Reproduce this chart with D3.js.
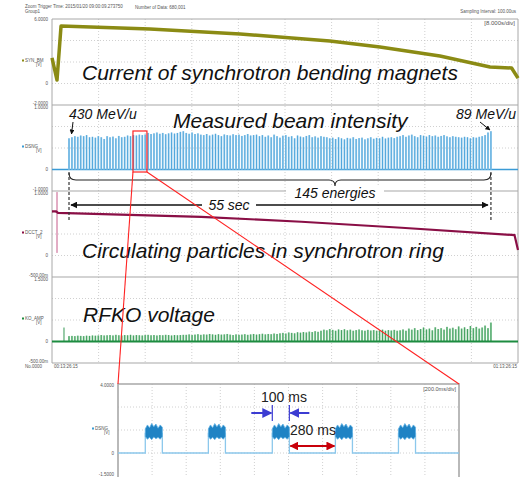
<!doctype html>
<html lang="en">
<head>
<meta charset="utf-8">
<title>Synchrotron multi-energy operation</title>
<script src="https://cdn.jsdelivr.net/npm/d3@7"></script>
<style>
body { margin: 0; background: #fff; }
svg { display: block; font-family: "Liberation Sans", Arial, sans-serif; }
.big { font-size: 21px; font-style: italic; fill: #111; }
.tiny { font-size: 4.5px; fill: #555; }
</style>
</head>
<body>
<svg id="chart" width="520" height="477"></svg>
<script>
// values; amplitudes are in scope divisions
const magnetTime  = [0, 0.86, 1.55, 16.8, 32.3, 47.7, 56.3, 66.6, 75.2, 78.9, 80];
const magnetValue = [1.19, 0.16, 2.67, 2.53, 2.30, 1.98, 1.70, 1.28, 0.77, 0.72, 0.25];

const circTime  = [0, 0.7, 1.03, 25.6, 42.8, 60.0, 79.4, 80];
const circValue = [2.05, 2.05, 1.98, 1.80, 1.57, 1.29, 0.95, 0.26];
const circGlitch = {t: 0.86, top: 2.95, bottom: 0.12};

const firstEnergy = 2.92;   // s
const energyStep = 0.503;   // s between energies
const beamHeight = [
  1.45, 1.5, 1.55, 1.52, 1.58, 1.55, 1.6, 1.5,
  1.52, 1.48, 1.55, 1.5, 1.42, 1.55, 1.5, 1.53, 1.45, 1.56, 1.5, 1.52, 1.58, 1.55,
  1.6, 1.58, 1.62, 1.6, 1.63,
  1.7, 1.65, 1.68, 1.72, 1.66, 1.7, 1.64, 1.68, 1.72, 1.67, 1.7, 1.75, 1.78, 1.7, 1.66, 1.72, 1.65, 1.68,
  1.62, 1.6, 1.65, 1.58, 1.62, 1.66, 1.6, 1.55, 1.63, 1.6, 1.58, 1.64, 1.6, 1.62, 1.56, 1.6, 1.65, 1.58, 1.6, 1.62,
  1.55, 1.6, 1.52, 1.58, 1.5, 1.62, 1.55, 1.48, 1.57, 1.6, 1.52, 1.55, 1.45, 1.58, 1.53, 1.5, 1.56, 1.6, 1.5, 1.54, 1.48, 1.55, 1.52, 1.5,
  1.45, 1.48, 1.42, 1.5, 1.45, 1.4, 1.47, 1.44, 1.5, 1.42, 1.46, 1.48, 1.4, 1.45, 1.5, 1.43, 1.47, 1.45, 1.52, 1.44, 1.48, 1.5, 1.46, 1.52,
  1.55, 1.6, 1.52, 1.58, 1.62, 1.55, 1.5, 1.6, 1.57, 1.53, 1.6, 1.55, 1.58, 1.52, 1.56, 1.6, 1.54, 1.5, 1.55, 1.52, 1.5,
  1.48, 1.52, 1.5, 1.45, 1.5, 1.48, 1.52, 1.55, 1.6, 1.72, 1.78
];
const rfkoHeight = [
  0.25, 0.26, 0.25, 0.27, 0.26, 0.25, 0.27, 0.26, 0.28, 0.27,
  0.28, 0.3, 0.28, 0.29, 0.3, 0.28, 0.31, 0.29, 0.28, 0.3, 0.29, 0.31, 0.28, 0.3, 0.29,
  0.28, 0.3, 0.31, 0.29, 0.3, 0.28, 0.3, 0.29, 0.31, 0.3, 0.28, 0.3, 0.29, 0.3, 0.31,
  0.31, 0.33, 0.3, 0.32, 0.34, 0.31, 0.33, 0.32, 0.35, 0.33, 0.31, 0.34, 0.32, 0.33, 0.35, 0.32,
  0.3, 0.33, 0.31, 0.32, 0.34, 0.31, 0.33, 0.35, 0.32, 0.34, 0.36, 0.33, 0.35, 0.34, 0.37, 0.35,
  0.38, 0.4, 0.37, 0.42, 0.4, 0.38, 0.43, 0.41, 0.44, 0.42, 0.46, 0.44, 0.48, 0.45,
  0.5, 0.55, 0.52, 0.58, 0.54, 0.5, 0.56, 0.53, 0.57, 0.52, 0.55, 0.5, 0.53, 0.56, 0.52, 0.5,
  0.54, 0.51, 0.53, 0.5, 0.52, 0.55, 0.5, 0.53, 0.51, 0.54, 0.5,
  0.52, 0.56, 0.5, 0.6, 0.55, 0.62, 0.53, 0.58, 0.65, 0.56, 0.6, 0.52, 0.66, 0.58, 0.62, 0.55,
  0.68, 0.6, 0.64, 0.57, 0.7, 0.6, 0.66, 0.58, 0.72, 0.62, 0.68, 0.6, 0.65, 0.74, 0.62, 0.88
];
const rfkoKick = {t: 2.06, v: 0.65};

// zoomed beam trace, 200 ms/div
const pulseStart = [160, 530, 905, 1275, 1645];   // ms
const pulseWidth = 100;
const bandTop    = [1.05, 1.22, 1.1, 1.28, 1.14, 1.26, 1.08, 1.22, 1.12];
const bandBottom = [0.72, 0.6, 0.68, 0.58, 0.7, 0.62, 0.68, 0.6, 0.72];

const panels = [
  {name: 'SYN_BM', top: '6.0000', bottom: '-2.0000', color: '#8b8b14'},
  {name: 'DSNG', top: '1.0000', bottom: '-1.0000', color: '#3b9bd6'},
  {name: 'DCCT_2', top: '1.0000', bottom: '-500.00m', color: '#8a0f46'},
  {name: 'KO_AMP', top: '1.5000', bottom: '-500.00m', color: '#1d8c40'}
];

const svg = d3.select('#chart');
const left = 52, right = 518, panelTop = 19, panelH = 86;

const x = d3.scaleLinear().domain([0, 80]).range([left, right]);
const yPanel = i => d3.scaleLinear().domain([-1, 3]).range([panelTop + (i + 1) * panelH, panelTop + i * panelH]);
const ys = panels.map((p, i) => yPanel(i));

// markers
const defs = svg.append('defs');
function marker(id, color, size) {
  defs.append('marker').attr('id', id)
      .attr('viewBox', '0 0 10 10').attr('refX', 9).attr('refY', 5)
      .attr('markerWidth', size).attr('markerHeight', size)
      .attr('orient', 'auto-start-reverse')
    .append('path').attr('d', 'M0,0 L10,5 L0,10 z').attr('fill', color);
}
marker('ah-black', '#111', 5);
marker('ah-blue', '#3c3cd2', 5);
marker('ah-red', '#c8000a', 4);

// header
svg.append('text').attr('class', 'tiny').attr('x', 25).attr('y', 8).text('Zoom Trigger Time: 2015/01/20 09:00:09.273750');
svg.append('text').attr('class', 'tiny').attr('x', 25).attr('y', 12.5).text('Group1');
svg.append('text').attr('class', 'tiny').attr('x', 135).attr('y', 8.5).text('Number of Data: 680,001');
svg.append('text').attr('class', 'tiny').attr('x', 516).attr('y', 13).attr('text-anchor', 'end').text('Sampling Interval: 100.00us');

// grids + frames
const grid = svg.append('g');
d3.range(8, 80, 8).forEach(t => {
  grid.append('line').attr('x1', x(t)).attr('x2', x(t)).attr('y1', panelTop).attr('y2', panelTop + 4 * panelH)
      .attr('stroke', '#c4c4c4').attr('stroke-width', 0.8).attr('stroke-dasharray', '1,2');
});
ys.forEach((y, i) => {
  [0, 1, 2].forEach(v => grid.append('line').attr('x1', left).attr('x2', right).attr('y1', y(v)).attr('y2', y(v))
      .attr('stroke', '#c4c4c4').attr('stroke-width', 0.8).attr('stroke-dasharray', '1,2'));
  grid.append('line').attr('x1', left).attr('x2', right).attr('y1', y(-1)).attr('y2', y(-1))
      .attr('stroke', '#a8a8a8').attr('stroke-width', 1.2);
  const p = panels[i];
  grid.append('text').attr('class', 'tiny').attr('x', 48).attr('y', y(3) + (i ? 3.5 : 2)).attr('text-anchor', 'end').text(p.top);
  grid.append('text').attr('class', 'tiny').attr('x', 48).attr('y', y(-1) - 0.5).attr('text-anchor', 'end').text(p.bottom);
  grid.append('text').attr('class', 'tiny').attr('x', 48).attr('y', y(0) + 1.5).attr('text-anchor', 'end').text('0');
  grid.append('rect').attr('x', 22).attr('y', y(1) - 2.5).attr('width', 2).attr('height', 2).attr('fill', p.color);
  grid.append('text').attr('class', 'tiny').attr('x', 25).attr('y', y(1)).text(p.name);
  grid.append('text').attr('class', 'tiny').attr('x', 36).attr('y', y(1) + 4).text('[V]');
});
grid.append('line').attr('x1', left).attr('x2', left).attr('y1', panelTop).attr('y2', panelTop + 4 * panelH).attr('stroke', '#a8a8a8');
grid.append('line').attr('x1', right).attr('x2', right).attr('y1', panelTop).attr('y2', panelTop + 4 * panelH).attr('stroke', '#a8a8a8');
grid.append('line').attr('x1', left).attr('x2', right).attr('y1', panelTop).attr('y2', panelTop).attr('stroke', '#a8a8a8');
svg.append('text').attr('class', 'tiny').attr('x', 25).attr('y', 368).text('No.0000');
svg.append('text').attr('class', 'tiny').attr('x', 54).attr('y', 368).text('00:13:26:15');
svg.append('text').attr('class', 'tiny').attr('x', 517).attr('y', 368).attr('text-anchor', 'end').text('01:13:26:15');
svg.append('text').attr('x', 515).attr('y', 25).attr('text-anchor', 'end').attr('font-size', 6).attr('fill', '#555').text('[8.000s/div]');

// magnet current
svg.append('path')
    .datum(magnetTime.map((t, i) => [t, magnetValue[i]]))
    .attr('fill', 'none').attr('stroke', panels[0].color).attr('stroke-width', 3.5).attr('stroke-linejoin', 'round')
    .attr('d', d3.line().x(d => x(d[0])).y(d => ys[0](d[1])));

// beam intensity spikes
const energyT = beamHeight.map((h, i) => firstEnergy + i * energyStep);
const yb = ys[1];
svg.append('line').attr('x1', left).attr('x2', right).attr('y1', yb(0)).attr('y2', yb(0))
    .attr('stroke', panels[1].color).attr('stroke-width', 1.5);
const beam = svg.append('g');
beam.selectAll('rect').data(beamHeight).join('rect')
    .attr('x', (d, i) => x(energyT[i]) - 1).attr('width', 2)
    .attr('y', d => yb(d)).attr('height', d => yb(0) - yb(d))
    .attr('fill', '#a9d5f0');
beam.selectAll('line').data(beamHeight).join('line')
    .attr('x1', (d, i) => x(energyT[i])).attr('x2', (d, i) => x(energyT[i]))
    .attr('y1', yb(0)).attr('y2', d => yb(d))
    .attr('stroke', '#3b9bd6').attr('stroke-width', 0.8);

// circulating particles
const yc = ys[2];
svg.append('line').attr('x1', x(circGlitch.t)).attr('x2', x(circGlitch.t))
    .attr('y1', yc(circGlitch.top)).attr('y2', yc(circGlitch.bottom))
    .attr('stroke', '#c0487e').attr('stroke-width', 0.9);
svg.append('path')
    .datum(circTime.map((t, i) => [t, circValue[i]]))
    .attr('fill', 'none').attr('stroke', panels[2].color).attr('stroke-width', 2.2)
    .attr('d', d3.line().x(d => x(d[0])).y(d => yc(d[1])));

// RFKO voltage
const yr = ys[3];
const rfko = svg.append('g');
rfko.append('line').attr('x1', x(rfkoKick.t)).attr('x2', x(rfkoKick.t))
    .attr('y1', yr(0)).attr('y2', yr(rfkoKick.v)).attr('stroke', panels[3].color).attr('stroke-width', 0.9);
rfko.selectAll('rect').data(rfkoHeight).join('rect')
    .attr('x', (d, i) => x(energyT[i]) - 1).attr('width', 2)
    .attr('y', d => yr(d)).attr('height', d => yr(0) - yr(d))
    .attr('fill', '#9fd3ac');
rfko.selectAll('line.s').data(rfkoHeight).join('line').attr('class', 's')
    .attr('x1', (d, i) => x(energyT[i])).attr('x2', (d, i) => x(energyT[i]))
    .attr('y1', yr(0)).attr('y2', d => yr(d))
    .attr('stroke', panels[3].color).attr('stroke-width', 0.7);
svg.append('line').attr('x1', left).attr('x2', right).attr('y1', yr(0)).attr('y2', yr(0))
    .attr('stroke', panels[3].color).attr('stroke-width', 2);

// annotations
const t0 = x(energyT[0]), t1 = x(energyT[energyT.length - 1]);
svg.append('text').attr('class', 'big').attr('x', 82).attr('y', 80).text('Current of synchrotron bending magnets');
svg.append('text').attr('class', 'big').attr('x', 173).attr('y', 128).text('Measured beam intensity');
svg.append('text').attr('class', 'big').attr('x', 82).attr('y', 258).text('Circulating particles in synchrotron ring');
svg.append('text').attr('class', 'big').attr('x', 83).attr('y', 322).text('RFKO voltage');
svg.append('text').attr('x', 69).attr('y', 119).attr('font-size', 14).attr('font-style', 'italic').attr('fill', '#111').text('430 MeV/u');
svg.append('text').attr('x', 516).attr('y', 119).attr('text-anchor', 'end').attr('font-size', 14).attr('font-style', 'italic').attr('fill', '#111').text('89 MeV/u');
svg.append('line').attr('x1', 73).attr('y1', 122).attr('x2', 71.5).attr('y2', 134)
    .attr('stroke', '#111').attr('stroke-width', 1).attr('marker-end', 'url(#ah-black)');
svg.append('line').attr('x1', 480).attr('y1', 122).attr('x2', 490).attr('y2', 130)
    .attr('stroke', '#111').attr('stroke-width', 1).attr('marker-end', 'url(#ah-black)');

// brace + dashed limits
const mid = 335, by = 180;
svg.append('path')
    .attr('d', `M${t0},173 Q${t0},${by} ${t0 + 7},${by} L${mid - 6},${by} Q${mid},${by} ${mid},${by + 6} Q${mid},${by} ${mid + 6},${by} L${t1 - 7},${by} Q${t1},${by} ${t1},173`)
    .attr('fill', 'none').attr('stroke', '#222').attr('stroke-width', 1.1);
[t0, t1].forEach(px => svg.append('line').attr('x1', px).attr('x2', px).attr('y1', 172).attr('y2', 222)
    .attr('stroke', '#333').attr('stroke-width', 1.2).attr('stroke-dasharray', '3,2'));
svg.append('rect').attr('x', 286).attr('y', 186).attr('width', 98).attr('height', 16).attr('fill', '#fff');
svg.append('text').attr('x', 335).attr('y', 198).attr('text-anchor', 'middle').attr('font-size', 14).attr('font-style', 'italic').attr('fill', '#111').text('145 energies');
svg.append('line').attr('x1', t0 + 2).attr('x2', t1 - 3).attr('y1', 205).attr('y2', 205)
    .attr('stroke', '#111').attr('stroke-width', 1.4)
    .attr('marker-start', 'url(#ah-black)').attr('marker-end', 'url(#ah-black)');
svg.append('rect').attr('x', 202).attr('y', 197).attr('width', 54).attr('height', 16).attr('fill', '#fff');
svg.append('text').attr('x', 229).attr('y', 210).attr('text-anchor', 'middle').attr('font-size', 14).attr('font-style', 'italic').attr('fill', '#111').text('55 sec');

// zoomed panel
const zl = 118, zr = 459, zt = 384;
const xz = d3.scaleLinear().domain([0, 2000]).range([zl, zr]);
const yz = d3.scaleLinear().domain([-1, 3]).range([zt + 92, zt]);
const zg = svg.append('g');
d3.range(200, 2000, 200).forEach(t => zg.append('line').attr('x1', xz(t)).attr('x2', xz(t)).attr('y1', zt).attr('y2', 477)
    .attr('stroke', '#c4c4c4').attr('stroke-width', 0.8).attr('stroke-dasharray', '1,2'));
[0, 1, 2].forEach(v => zg.append('line').attr('x1', zl).attr('x2', zr).attr('y1', yz(v)).attr('y2', yz(v))
    .attr('stroke', '#c4c4c4').attr('stroke-width', 0.8).attr('stroke-dasharray', '1,2'));
zg.append('path').attr('d', `M${zl},477 L${zl},${zt} L${zr},${zt} L${zr},477`)
    .attr('fill', 'none').attr('stroke', '#a8a8a8').attr('stroke-width', 1.6);
zg.append('text').attr('class', 'tiny').attr('x', 114).attr('y', zt + 3).attr('text-anchor', 'end').text('4.0000');
zg.append('text').attr('class', 'tiny').attr('x', 114).attr('y', yz(0) + 1.5).attr('text-anchor', 'end').text('0');
zg.append('text').attr('class', 'tiny').attr('x', 114).attr('y', 476).attr('text-anchor', 'end').text('-1.5000');
zg.append('rect').attr('x', 92).attr('y', yz(1) - 2.5).attr('width', 2).attr('height', 2).attr('fill', panels[1].color);
zg.append('text').attr('class', 'tiny').attr('x', 95).attr('y', yz(1)).text('DSNG');
zg.append('text').attr('class', 'tiny').attr('x', 104).attr('y', yz(1) + 4).text('[V]');
zg.append('text').attr('x', 456).attr('y', 391).attr('text-anchor', 'end').attr('font-size', 5.5).attr('fill', '#555').text('[200.0ms/div]');

// pulse outline
const outline = [[0, 0]];
pulseStart.forEach(s => { outline.push([s, 0], [s, 0.85], [s + pulseWidth, 0.85], [s + pulseWidth, 0]); });
outline.push([2000, 0]);
zg.append('path').datum(outline)
    .attr('fill', 'none').attr('stroke', '#8cc8ec').attr('stroke-width', 1.3)
    .attr('d', d3.line().x(d => xz(d[0])).y(d => yz(d[1])));
pulseStart.forEach(s => {
  const n = bandTop.length - 1;
  const pts = bandTop.map((v, i) => [s + pulseWidth * i / n, v])
      .concat(bandBottom.map((v, i) => [s + pulseWidth * i / n, v]).reverse());
  zg.append('path').datum(pts)
      .attr('fill', '#1f83c4').attr('stroke', '#5fb0e2').attr('stroke-width', 0.8)
      .attr('d', d3.line().x(d => xz(d[0])).y(d => yz(d[1])).curve(d3.curveLinearClosed));
});

// 100 ms / 280 ms annotations tied to the third and fourth pulse
const p3s = xz(pulseStart[2]), p3e = xz(pulseStart[2] + pulseWidth), p4s = xz(pulseStart[3]);
zg.append('text').attr('x', 284).attr('y', 402).attr('text-anchor', 'middle').attr('font-size', 14).attr('fill', '#222').text('100 ms');
[p3s, p3e].forEach(px => zg.append('line').attr('x1', px).attr('x2', px).attr('y1', 405).attr('y2', 421)
    .attr('stroke', '#3c3cd2').attr('stroke-width', 1.2));
zg.append('line').attr('x1', p3s - 21).attr('x2', p3s - 1).attr('y1', 413).attr('y2', 413)
    .attr('stroke', '#3c3cd2').attr('stroke-width', 2).attr('marker-end', 'url(#ah-blue)');
zg.append('line').attr('x1', p3e + 20).attr('x2', p3e + 1).attr('y1', 413).attr('y2', 413)
    .attr('stroke', '#3c3cd2').attr('stroke-width', 2).attr('marker-end', 'url(#ah-blue)');
zg.append('text').attr('x', 313).attr('y', 435).attr('text-anchor', 'middle').attr('font-size', 14).attr('fill', '#222').text('280 ms');
zg.append('line').attr('x1', p3e + 1).attr('x2', p4s - 1).attr('y1', 446).attr('y2', 446)
    .attr('stroke', '#c8000a').attr('stroke-width', 2.2)
    .attr('marker-start', 'url(#ah-red)').attr('marker-end', 'url(#ah-red)');

// red zoom box + lines
const bx0 = x(13.9), bx1 = x(16.3);
svg.append('rect').attr('x', bx0).attr('y', 131).attr('width', bx1 - bx0).attr('height', 41)
    .attr('fill', 'none').attr('stroke', '#f22').attr('stroke-width', 1.2);
svg.append('line').attr('x1', bx0).attr('y1', 172).attr('x2', zl).attr('y2', zt).attr('stroke', '#f22').attr('stroke-width', 1.1);
svg.append('line').attr('x1', bx1).attr('y1', 172).attr('x2', zr).attr('y2', zt).attr('stroke', '#f22').attr('stroke-width', 1.1);
</script>
</body>
</html>
